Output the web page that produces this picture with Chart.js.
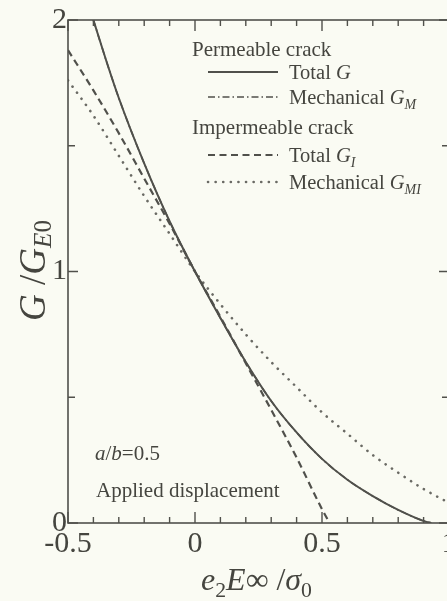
<!DOCTYPE html>
<html>
<head>
<meta charset="utf-8">
<script src="https://cdn.jsdelivr.net/npm/chart.js"></script>
<style>
  html, body { margin: 0; padding: 0; background: #fafbf3; overflow: hidden; }
  #wrap { position: relative; width: 460px; height: 601px; }
</style>
</head>
<body>
<div id="wrap"><canvas id="gChart"></canvas></div>
<script>
// values
const xTotalG = [-0.4, -0.35, -0.3, -0.2, -0.1, 0, 0.1, 0.2, 0.3, 0.4, 0.5, 0.6, 0.7, 0.8, 0.9, 0.93];
const totalG  = [2.0, 1.84, 1.69, 1.43, 1.20, 1.0, 0.815, 0.64, 0.485, 0.36, 0.255, 0.172, 0.107, 0.052, 0.008, 0];
const mechG   = [2.0, 1.84, 1.69, 1.43, 1.20, 1.0, 0.815, 0.64, 0.485, 0.36, 0.255, 0.172, 0.107, 0.052, 0.008, 0];

const xTotalGI = [-0.5, -0.4, -0.3, -0.2, -0.1, 0, 0.1, 0.2, 0.3, 0.4, 0.5, 0.53];
const totalGI  = [1.88, 1.72, 1.55, 1.37, 1.19, 1.0, 0.82, 0.635, 0.45, 0.26, 0.055, 0];

const xMechGMI = [-0.5, -0.4, -0.3, -0.2, -0.1, 0, 0.1, 0.2, 0.3, 0.4, 0.5, 0.6, 0.7, 0.8, 0.9, 1.0];
const mechGMI  = [1.76, 1.62, 1.46, 1.30, 1.15, 1.0, 0.87, 0.75, 0.64, 0.54, 0.44, 0.355, 0.27, 0.2, 0.135, 0.08];

const xMin = -0.5, xMax = 1, xStep = 0.1;
const yMin = 0, yMax = 2, yStep = 0.5;

const ink = '#50504b';
const txt = '#45453f';
const serif = '"Liberation Serif", "DejaVu Serif", serif';

function pts(xs, ys) {
    return xs.map(function (x, i) { return { x: x, y: ys[i] }; });
}

// draw a run of text pieces, some italic, some subscript
function richText(ctx, parts, x, y, size, align, subDrop) {
    let drop = subDrop === undefined ? 0.22 : subDrop;
    ctx.save();
    ctx.textBaseline = 'alphabetic';
    ctx.textAlign = 'left';
    let widths = parts.map(function (p) {
        let s = p.sub ? size * 0.68 : size;
        ctx.font = (p.it ? 'italic ' : '') + s + 'px ' + serif;
        return ctx.measureText(p.t).width;
    });
    let total = widths.reduce(function (a, b) { return a + b; }, 0);
    let cx = align === 'center' ? x - total / 2 : x;
    parts.forEach(function (p, i) {
        let s = p.sub ? size * 0.68 : size;
        ctx.font = (p.it ? 'italic ' : '') + s + 'px ' + serif;
        ctx.fillText(p.t, cx, p.sub ? y + size * drop : y);
        cx += widths[i];
    });
    ctx.restore();
}

const legendRows = [
    { head: 'Permeable crack', y: 50 },
    { ds: 1, y: 72, parts: [{ t: 'Total ' }, { t: 'G', it: true }] },
    { ds: 0, y: 97, parts: [{ t: 'Mechanical ' }, { t: 'G', it: true }, { t: 'M', it: true, sub: true }] },
    { head: 'Impermeable crack', y: 128 },
    { ds: 2, y: 155, parts: [{ t: 'Total ' }, { t: 'G', it: true }, { t: 'I', it: true, sub: true }] },
    { ds: 3, y: 182, parts: [{ t: 'Mechanical ' }, { t: 'G', it: true }, { t: 'MI', it: true, sub: true }] }
];

const framePlugin = {
    id: 'frame',
    afterDraw: function (chart) {
        const ctx = chart.ctx;
        const a = chart.chartArea;
        const xs = chart.scales.x, ys = chart.scales.y;
        ctx.save();
        ctx.strokeStyle = ink;
        ctx.lineWidth = 1.6;
        ctx.strokeRect(a.left, a.top, a.right - a.left, a.bottom - a.top);

        // inward ticks
        ctx.lineWidth = 1.4;
        xs.ticks.forEach(function (t) {
            let px = xs.getPixelForValue(t.value);
            let major = Math.abs(t.value * 2 - Math.round(t.value * 2)) < 1e-6;
            let len = major ? 11 : 6;
            ctx.beginPath();
            ctx.moveTo(px, a.bottom); ctx.lineTo(px, a.bottom - len);
            ctx.moveTo(px, a.top); ctx.lineTo(px, a.top + len);
            ctx.stroke();
        });
        ys.ticks.forEach(function (t) {
            let py = ys.getPixelForValue(t.value);
            let major = Math.abs(t.value - Math.round(t.value)) < 1e-6;
            let len = major ? 10 : 7;
            ctx.beginPath();
            ctx.moveTo(a.left, py); ctx.lineTo(a.left + len, py);
            ctx.moveTo(a.right, py); ctx.lineTo(a.right - len, py);
            ctx.stroke();
        });

        // axis titles
        ctx.fillStyle = txt;
        richText(ctx, [{ t: 'e', it: true }, { t: '2', sub: true }, { t: 'E', it: true },
            { t: '\u221E' }, { t: ' /' }, { t: '\u03C3', it: true }, { t: '0', sub: true }],
            (a.left + a.right) / 2 - 2, 590, 32, 'center');
        ctx.save();
        ctx.translate(45, (a.top + a.bottom) / 2 - 1);
        ctx.rotate(-Math.PI / 2);
        richText(ctx, [{ t: 'G', it: true }, { t: ' /' }, { t: 'G', it: true },
            { t: 'E', it: true, sub: true }, { t: '0', sub: true }], 0, 0, 37, 'center', 0.16);
        ctx.restore();

        // legend
        legendRows.forEach(function (r) {
            if (r.head) {
                ctx.font = '21px ' + serif;
                ctx.textBaseline = 'middle';
                ctx.fillText(r.head, 192, r.y);
                return;
            }
            let ds = chart.data.datasets[r.ds];
            ctx.save();
            ctx.strokeStyle = ds.borderColor;
            ctx.lineWidth = ds.borderWidth;
            ctx.lineCap = ds.borderCapStyle || 'butt';
            ctx.setLineDash(ds.borderDash || []);
            ctx.beginPath();
            ctx.moveTo(208, r.y); ctx.lineTo(278, r.y);
            ctx.stroke();
            ctx.restore();
            richText(ctx, r.parts, 289, r.y + 7, 20.5, 'left');
        });

        // notes
        richText(ctx, [{ t: 'a', it: true }, { t: '/' }, { t: 'b', it: true }, { t: '=0.5' }], 95, 460, 21, 'left');
        richText(ctx, [{ t: 'Applied displacement' }], 96, 497, 21, 'left');
        ctx.restore();
    }
};

const ctx = document.getElementById('gChart').getContext('2d');
const chart = new Chart(ctx, {
    type: 'line',
    data: {
        datasets: [{
            label: 'Mechanical GM',
            data: pts(xTotalG, mechG),
            borderColor: ink,
            borderWidth: 1.6,
            borderDash: [7, 3, 1.5, 3]
        }, {
            label: 'Total G',
            data: pts(xTotalG, totalG),
            borderColor: ink,
            borderWidth: 2
        }, {
            label: 'Total GI',
            data: pts(xTotalGI, totalGI),
            borderColor: ink,
            borderWidth: 2.2,
            borderDash: [7, 4.5]
        }, {
            label: 'Mechanical GMI',
            data: pts(xMechGMI, mechGMI),
            borderColor: '#6a6a64',
            borderWidth: 2.6,
            borderCapStyle: 'round',
            borderDash: [0.1, 7.5]
        }]
    },
    options: {
        responsive: true,
        maintainAspectRatio: false,
        animation: false,
        layout: { padding: { left: 0, right: 11, top: 20, bottom: 0 } },
        elements: {
            point: { radius: 0 },
            line: { tension: 0.4, cubicInterpolationMode: 'monotone', fill: false }
        },
        plugins: {
            legend: { display: false },
            tooltip: { enabled: false }
        },
        scales: {
            x: {
                type: 'linear',
                min: xMin,
                max: xMax,
                border: { display: false },
                grid: { display: false, drawTicks: false },
                afterFit: function (s) { s.height = 78; },
                ticks: {
                    stepSize: xStep,
                    autoSkip: false,
                    maxRotation: 0,
                    padding: 3,
                    color: txt,
                    font: { family: serif, size: 30 },
                    callback: function (v) {
                        let r = Math.round(v * 10) / 10;
                        return Math.abs(r * 2 - Math.round(r * 2)) < 1e-6 ? String(r) : '';
                    }
                }
            },
            y: {
                min: yMin,
                max: yMax,
                border: { display: false },
                grid: { display: false, drawTicks: false },
                afterFit: function (s) { s.width = 68; },
                ticks: {
                    stepSize: yStep,
                    padding: 1,
                    color: txt,
                    font: { family: serif, size: 30 },
                    callback: function (v) {
                        return Math.abs(v - Math.round(v)) < 1e-6 ? String(Math.round(v)) : '';
                    }
                }
            }
        }
    },
    plugins: [framePlugin]
});
</script>
</body>
</html>
